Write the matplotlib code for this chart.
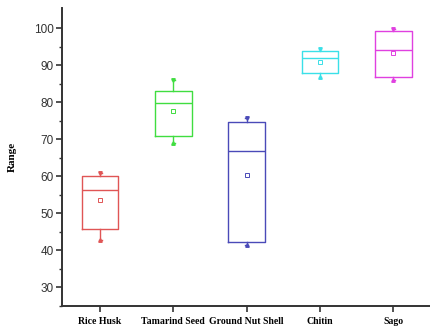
import matplotlib.pyplot as plt
import numpy as np

# valores
categorias = ["Rice Husk", "Tamarind Seed", "Ground Nut Shell", "Chitin", "Sago"]
minimo = [42.8, 69.0, 41.4, 86.7, 85.9]
q1 = [45.8, 70.8, 42.3, 87.8, 86.7]
mediana = [56.2, 79.8, 66.9, 91.8, 94.1]
media = [53.5, 77.5, 60.3, 90.9, 93.2]
q3 = [60.0, 83.1, 74.6, 93.8, 99.3]
maximo = [60.8, 86.1, 75.8, 94.4, 99.6]
cores = ["#e05555", "#40dd40", "#4a4ab8", "#3ae0e8", "#e040e0"]

fig = plt.figure(figsize=(4.3, 3.33), dpi=100)
ax = fig.add_axes([0.144, 0.081, 0.856, 0.895])

pos = np.arange(1, len(categorias) + 1)
for i, p in enumerate(pos):
    st = [dict(whislo=minimo[i], q1=q1[i], med=mediana[i], mean=media[i],
               q3=q3[i], whishi=maximo[i], fliers=[])]
    c = cores[i]
    ax.bxp(st, positions=[p], widths=0.5, showmeans=True, manage_ticks=False,
           boxprops=dict(color=c, linewidth=1.0),
           medianprops=dict(color=c, linewidth=1.0),
           whiskerprops=dict(color=c, linewidth=1.0),
           capprops=dict(color=c, linewidth=1.0),
           capwidths=0.04,
           meanprops=dict(marker="s", markersize=3, markerfacecolor="none",
                          markeredgecolor=c, markeredgewidth=0.7))
    ax.plot(p, maximo[i], marker="v", markersize=2.5, color=c)
    ax.plot(p, minimo[i], marker="^", markersize=2.5, color=c)

ax.set_xlim(0.48, 5.5)
ax.set_ylim(25, 105.4)
ax.set_xticks(pos)
ax.set_xticklabels(categorias, family="Liberation Serif", fontweight="bold", fontsize=7)
ax.set_yticks([30, 40, 50, 60, 70, 80, 90, 100])
ax.set_yticks(np.arange(25, 105, 5), minor=True)
for lbl in ax.get_yticklabels():
    lbl.set_family("Liberation Sans")
    lbl.set_fontsize(8.5)
    lbl.set_color("#333333")

ax.set_ylabel("Range", family="Liberation Serif", fontweight="bold", fontsize=8, labelpad=12)

for s in ["top", "right"]:
    ax.spines[s].set_visible(False)
for s in ["left", "bottom"]:
    ax.spines[s].set_linewidth(1.4)
    ax.spines[s].set_color("#333333")
ax.tick_params(axis="both", which="major", direction="out", length=4, width=1.2, color="#333333", pad=2)
ax.tick_params(axis="y", which="minor", direction="out", length=2.5, width=1.0, color="#333333")
ax.tick_params(axis="x", pad=4)

fig.savefig("out.png", dpi=100)
